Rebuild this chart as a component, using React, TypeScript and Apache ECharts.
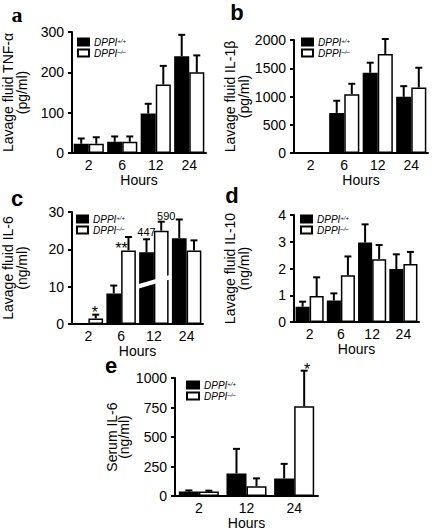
import React, { useEffect, useRef } from 'react';
import * as echarts from 'echarts';

const FONT = 'Liberation Sans, Arial, Helvetica, sans-serif';

// Categories
const hours4 = ['2', '6', '12', '24'];
const hours3 = ['2', '12', '24'];

// a: Lavage fluid TNF-alpha (pg/ml)
const tnfWT = [23, 28, 98, 240];
const tnfWTErr = [36, 41, 122, 293];
const tnfKO = [23, 28, 170, 200];
const tnfKOErr = [39, 41, 216, 242];

// b: Lavage fluid IL-1beta (pg/ml)
const il1WT = [null, 710, 1420, 994];
const il1WTErr = [null, 925, 1598, 1183];
const il1KO = [null, 1041, 1751, 1160];
const il1KOErr = [null, 1225, 2018, 1509];

// c: Lavage fluid IL-6 (ng/ml)
const il6WT = [null, 8.2, 19.2, 23];
const il6WTErr = [null, 10.3, 22.7, 28];
const il6KO = [1.5, 19.7, 25, 19.7];
const il6KOErr = [2.5, 23.3, 27.4, 22.4];
// axis-break band on the 12 h bars: [category, value at left edge, value at right edge, thickness]
const il6Break = [[2, 9.4, 12.0, 1.2]];

// d: Lavage fluid IL-10 (ng/ml)
const il10WT = [0.57, 0.8, 2.97, 1.98];
const il10WTErr = [0.76, 1.07, 3.65, 2.53];
const il10KO = [0.97, 1.75, 2.35, 2.17];
const il10KOErr = [1.67, 2.45, 2.88, 2.62];

// e: Serum IL-6 (ng/ml)
const serWT = [40, 191, 150];
const serWTErr = [48, 400, 273];
const serKO = [38, 84, 760];
const serKOErr = [46, 150, 1062];

// annotations: [category, anchor value, text]
const il6Notes: [number, number, string][] = [
  [0, 2.5, '*'],
  [1, 19.7, '**'],
  [2, 22.7, '447'],
  [2, 27.4, '590'],
];
const serNotes: [number, number, string][] = [[2, 1062, '*']];

const WT = 'DPPI+/+';
const KO = 'DPPI-/-';

// styling of annotations (bar side, px offsets, font size) — index-matched to notes above
const il6NoteStyle = [
  { side: 1, dx: -1, dy: -2, size: 16 },
  { side: 1, dx: -7, dy: -2, size: 16 },
  { side: -1, dx: 0, dy: -7, size: 11 },
  { side: 1, dx: 5, dy: -6, size: 11 },
];
const serNoteStyle = [{ side: 1, dx: 3, dy: -1, size: 16 }];

const panels = [
  { grid: { left: 71, top: 32, width: 135, height: 121 }, cats: hours4, max: 300, interval: 100, name: 'Lavage fluid TNF-α\n(pg/ml)', gap: 43, lh: 14, wt: tnfWT, wtE: tnfWTErr, ko: tnfKO, koE: tnfKOErr, pct: 0.45, legend: { left: 77, top: 37 } },
  { grid: { left: 294, top: 40, width: 134, height: 113 }, cats: hours4, max: 2000, interval: 500, name: 'Lavage fluid IL-1β\n(pg/ml)', gap: 43, lh: 14, wt: il1WT, wtE: il1WTErr, ko: il1KO, koE: il1KOErr, pct: 0.45, legend: { left: 301, top: 37 } },
  { grid: { left: 71, top: 212, width: 132, height: 112 }, cats: hours4, max: 30, interval: 10, name: 'Lavage fluid IL-6\n(ng/ml)', gap: 43, lh: 14, wt: il6WT, wtE: il6WTErr, ko: il6KO, koE: il6KOErr, pct: 0.45, legend: { left: 76, top: 214 } },
  { grid: { left: 294, top: 215, width: 125, height: 107 }, cats: hours4, max: 4, interval: 1, name: 'Lavage fluid IL-10\n(ng/ml)', gap: 43, lh: 14, wt: il10WT, wtE: il10WTErr, ko: il10KO, koE: il10KOErr, pct: 0.45, legend: { left: 300, top: 214 } },
  { grid: { left: 175, top: 378, width: 143, height: 119 }, cats: hours3, max: 1000, interval: 250, name: 'Serum IL-6\n(ng/ml)', gap: 45, lh: 12, wt: serWT, wtE: serWTErr, ko: serKO, koE: serKOErr, pct: 0.42, legend: { left: 186, top: 380 } },
];

const errRender = (side: number, pct: number) => (params: any, api: any) => {
  const idx = api.value(0);
  const v = api.value(1);
  const e = api.value(2);
  const c = api.coord([idx, v]);
  const t = api.coord([idx, e]);
  const w = api.size([1, 0])[0] * pct;
  const x = c[0] + (side * w) / 2;
  const st = { stroke: '#000', lineWidth: 2 };
  return {
    type: 'group',
    children: [
      { type: 'line', shape: { x1: x, y1: c[1], x2: x, y2: t[1] }, style: st },
      { type: 'line', shape: { x1: x - 3.5, y1: t[1], x2: x + 3.5, y2: t[1] }, style: st },
    ],
  };
};

const breakRender = (pct: number) => (params: any, api: any) => {
  const idx = api.value(0);
  const v1 = api.value(1);
  const v2 = api.value(2);
  const th = api.value(3);
  const cx = api.coord([idx, 0])[0];
  const w = api.size([1, 0])[0] * pct;
  const l = cx - w - 2;
  const r = cx + w + 2;
  return {
    type: 'polygon',
    shape: {
      points: [
        [l, api.coord([idx, v1])[1]],
        [r, api.coord([idx, v2])[1]],
        [r, api.coord([idx, v2 + th])[1]],
        [l, api.coord([idx, v1 + th])[1]],
      ],
    },
    style: { fill: '#fff' },
  };
};

const noteRender = (notes: [number, number, string][], styles: any[], pct: number) => (params: any, api: any) => {
  const i = params.dataIndex;
  const [cat, val, text] = notes[i];
  const s = styles[i];
  const p = api.coord([cat, val]);
  const w = api.size([1, 0])[0] * pct;
  return {
    type: 'text',
    x: p[0] + (s.side * w) / 2 + s.dx,
    y: p[1] + s.dy,
    style: {
      text,
      fill: '#000',
      font: `${s.size}px ${FONT}`,
      textAlign: 'center',
      textVerticalAlign: 'middle',
    },
  };
};

const errData = (vals: (number | null)[], errs: (number | null)[]) =>
  vals.map((v, j) => (v == null ? null : [j, v, errs[j]])).filter((d) => d !== null);

function buildOption() {
  const grids: any[] = [];
  const xAxes: any[] = [];
  const yAxes: any[] = [];
  const series: any[] = [];
  const legends: any[] = [];

  panels.forEach((p, i) => {
    grids.push({ ...p.grid, containLabel: false });
    xAxes.push({
      type: 'category',
      gridIndex: i,
      data: p.cats,
      axisLine: { lineStyle: { color: '#000', width: 2 } },
      axisTick: { show: false },
      axisLabel: { color: '#000', fontSize: 14, fontFamily: FONT, margin: 5 },
      name: 'Hours',
      nameLocation: 'middle',
      nameGap: 18,
      nameTextStyle: { color: '#000', fontSize: 14, fontFamily: FONT },
    });
    yAxes.push({
      type: 'value',
      gridIndex: i,
      min: 0,
      max: p.max,
      interval: p.interval,
      axisLine: { show: true, lineStyle: { color: '#000', width: 2 } },
      axisTick: { show: true, length: 4, lineStyle: { color: '#000', width: 2 } },
      splitLine: { show: false },
      axisLabel: { color: '#000', fontSize: 14, fontFamily: FONT, margin: 8, formatter: (v: number) => String(v) },
      name: p.name,
      nameLocation: 'middle',
      nameGap: p.gap,
      nameTextStyle: { color: '#000', fontSize: 14, lineHeight: p.lh, fontFamily: FONT },
    });
    const barBase = {
      type: 'bar',
      xAxisIndex: i,
      yAxisIndex: i,
      barWidth: `${p.pct * 100}%`,
      barGap: '0%',
    };
    series.push({
      ...barBase,
      name: WT,
      data: p.wt,
      itemStyle: { color: '#000', borderColor: '#000', borderWidth: 1.5 },
    });
    series.push({
      ...barBase,
      name: KO,
      data: p.ko,
      itemStyle: { color: '#fff', borderColor: '#000', borderWidth: 1.5 },
    });
    series.push({
      type: 'custom',
      xAxisIndex: i,
      yAxisIndex: i,
      renderItem: errRender(-1, p.pct),
      data: errData(p.wt, p.wtE),
      encode: { x: 0, y: 1 },
      z: 3,
      silent: true,
    });
    series.push({
      type: 'custom',
      xAxisIndex: i,
      yAxisIndex: i,
      renderItem: errRender(1, p.pct),
      data: errData(p.ko, p.koE),
      encode: { x: 0, y: 1 },
      z: 3,
      silent: true,
    });
    if (i === 2) {
      series.push({
        type: 'custom',
        xAxisIndex: i,
        yAxisIndex: i,
        renderItem: breakRender(p.pct),
        data: il6Break,
        encode: { x: 0, y: 1 },
        z: 4,
        silent: true,
      });
      series.push({
        type: 'custom',
        xAxisIndex: i,
        yAxisIndex: i,
        renderItem: noteRender(il6Notes, il6NoteStyle, p.pct),
        data: il6Notes.map((n) => [n[0], n[1]]),
        encode: { x: 0, y: 1 },
        z: 5,
        silent: true,
      });
    }
    if (i === 4) {
      series.push({
        type: 'custom',
        xAxisIndex: i,
        yAxisIndex: i,
        renderItem: noteRender(serNotes, serNoteStyle, p.pct),
        data: serNotes.map((n) => [n[0], n[1]]),
        encode: { x: 0, y: 1 },
        z: 5,
        silent: true,
      });
    }
    legends.push({
      data: [WT, KO],
      left: p.legend.left,
      top: p.legend.top,
      orient: 'vertical',
      padding: 0,
      itemGap: 1,
      itemWidth: i === 4 ? 12 : 11,
      itemHeight: 7,
      icon: 'rect',
      selectedMode: false,
      formatter: (n: string) => (n === WT ? '{i|DPPI}{s|+/+}' : '{i|DPPI}{s|–/–}'),
      textStyle: {
        color: '#000',
        fontFamily: FONT,
        rich: {
          i: { fontStyle: 'italic', fontSize: 10, lineHeight: 9, fontFamily: FONT, color: '#000' },
          s: { fontStyle: 'italic', fontSize: 6, lineHeight: 6, verticalAlign: 'top', fontFamily: FONT, color: '#000' },
        },
      },
    });
  });

  const letter = (t: string, x: number, y: number, serif = false) => ({
    type: 'text',
    x,
    y,
    style: {
      text: t,
      font: `bold 22px ${serif ? 'Liberation Serif, serif' : FONT}`,
      fill: '#000',
      textAlign: 'center',
      textVerticalAlign: 'middle',
    },
  });

  return {
    animation: false,
    backgroundColor: '#fff',
    grid: grids,
    xAxis: xAxes,
    yAxis: yAxes,
    legend: legends,
    series,
    graphic: [
      letter('a', 17, 14, true),
      letter('b', 237, 12),
      letter('c', 17, 198),
      letter('d', 232, 195),
      letter('e', 111, 365),
    ],
  };
}

export default function App() {
  const ref = useRef<HTMLDivElement>(null);
  useEffect(() => {
    if (!ref.current) return;
    const chart = echarts.init(ref.current, null, { renderer: 'svg' });
    chart.setOption(buildOption() as any);
    return () => chart.dispose();
  }, []);
  return (
    <div
      ref={ref}
      style={{ position: 'fixed', left: 0, top: 0, width: 435, height: 531, background: '#fff' }}
    />
  );
}
